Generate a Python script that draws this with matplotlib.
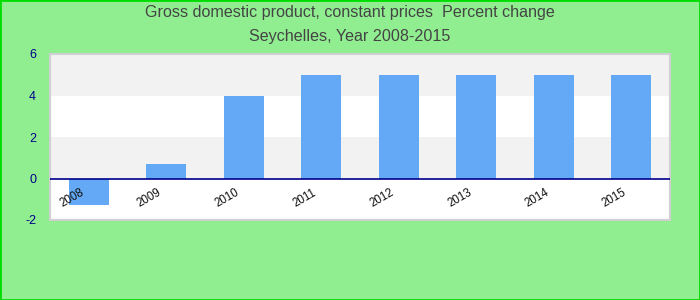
import matplotlib
matplotlib.use("Agg")
import matplotlib.pyplot as plt
from matplotlib.patches import Rectangle

# --- Дані ---
years = ["2008", "2009", "2010", "2011", "2012", "2013", "2014", "2015"]
values = [-1.3, 0.7, 4.0, 5.0, 5.0, 5.0, 5.0, 5.0]
y_ticks = [-2, 0, 2, 4, 6]

BG = "#90ee90"
BAR = "#63a9f5"
TXT = "#444444"
AXIS_BLUE = "#00008b"

plt.rcParams["font.family"] = ["Liberation Sans", "DejaVu Sans"]
plt.rcParams["axes.unicode_minus"] = False

fig = plt.figure(figsize=(7, 3), dpi=100, facecolor=BG)
fig.patches.append(Rectangle((0, 0), 1, 1, transform=fig.transFigure,
                             fill=False, edgecolor="#00dd00", linewidth=2))

ax = fig.add_axes([50 / 700, 1 - 220 / 300, 620 / 700, 166 / 300])
ax.set_facecolor("white")
ax.set_xlim(-0.5, len(years) - 0.5)
ax.set_ylim(-2, 6)

# Смуги фону
for lo, hi in [(0, 2), (4, 6)]:
    ax.axhspan(lo, hi, color="#f2f2f2", zorder=0, linewidth=0)

x = range(len(years))
ax.bar(x, values, width=0.52, color=BAR, zorder=2)
ax.axhline(0, color=AXIS_BLUE, linewidth=1.2, zorder=3)

ax.set_xticks([])
ax.set_yticks(y_ticks)
ax.tick_params(axis="y", length=0, pad=10, labelsize=9, labelcolor=AXIS_BLUE)
for s in ax.spines.values():
    s.set_color("#d0d0d0")
    s.set_linewidth(1.5)

# Підписи років всередині області графіка
for i, yr in enumerate(years):
    ax.annotate(yr, (i, 0), xytext=(-12, -14), textcoords="offset points",
                rotation=30, ha="center", va="center", fontsize=8.3,
                color="#111111", zorder=4)

fig.text(0.5, 1 - 13 / 300, "Gross domestic product, constant prices  Percent change",
         ha="center", va="center", fontsize=11.6, color=TXT)
fig.text(0.5, 1 - 36 / 300, "Seychelles, Year 2008-2015",
         ha="center", va="center", fontsize=11.6, color=TXT)

fig.savefig("out.png", dpi=100, facecolor=BG)
